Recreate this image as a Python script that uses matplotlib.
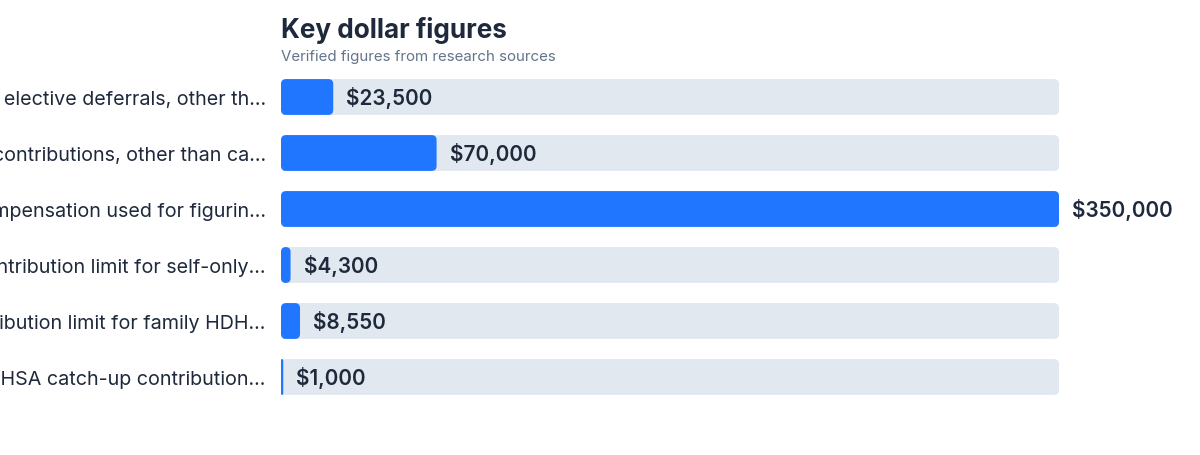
import matplotlib
matplotlib.use("Agg")
import matplotlib.pyplot as plt
from matplotlib.patches import FancyBboxPatch

plt.rcParams['font.family'] = ['Inter', 'DejaVu Sans']

# data
labels = [
    "Limit on elective deferrals, other th…",
    "Combined contributions, other than ca…",
    "Maximum compensation used for figurin…",
    "HSA contribution limit for self-only…",
    "HSA contribution limit for family HDH…",
    "Additional HSA catch-up contribution…",
]
values = [23500, 70000, 350000, 4300, 8550, 1000]
xmax = 350000

blue = "#2176FF"
track = "#E2E8F0"
dark = "#1E293B"
grey = "#64748B"

W, H = 1200, 456
fig = plt.figure(figsize=(W / 100, H / 100), dpi=100)
ax_left, ax_right = 281, 1059
ax_top, ax_bot = 70, 406
ax = fig.add_axes([ax_left / W, 1 - ax_bot / H, (ax_right - ax_left) / W, (ax_bot - ax_top) / H])
ax.set_xlim(0, xmax)
n = len(values)
ax.set_ylim(n - 0.5, -0.5)

# units per pixel, for rounded corners
xpp = xmax / (ax_right - ax_left)
ypp = n / (ax_bot - ax_top)
r_px = 5
bh = 0.64


def rbar(x0, w, y, color, z):
    r = min(r_px * xpp, w / 2)
    p = FancyBboxPatch((x0, y - bh / 2), w, bh,
                       boxstyle=f"round,pad=0,rounding_size={r}",
                       mutation_aspect=ypp / xpp,
                       facecolor=color, edgecolor="none", zorder=z)
    ax.add_patch(p)


for i, v in enumerate(values):
    rbar(0, xmax, i, track, 1)
    rbar(0, v, i, blue, 2)
    ax.annotate(f"${v:,}", (v, i), xytext=(13, 0), textcoords="offset pixels",
                ha="left", va="center", fontsize=14.9, fontweight="semibold",
                color=dark, annotation_clip=False)

ax.set_yticks(range(n))
ax.set_yticklabels(labels, fontsize=14.2, color=dark)
ax.tick_params(axis="y", length=0, pad=11)
ax.set_xticks([])
for s in ax.spines.values():
    s.set_visible(False)

fig.text(ax_left / W, 1 - 38 / H, "Key dollar figures", fontsize=18.8,
         fontweight="bold", color=dark, va="baseline", ha="left")
fig.text(ax_left / W, 1 - 61 / H, "Verified figures from research sources",
         fontsize=10.85, color=grey, va="baseline", ha="left")

fig.savefig("out.png", dpi=100, facecolor="white")
